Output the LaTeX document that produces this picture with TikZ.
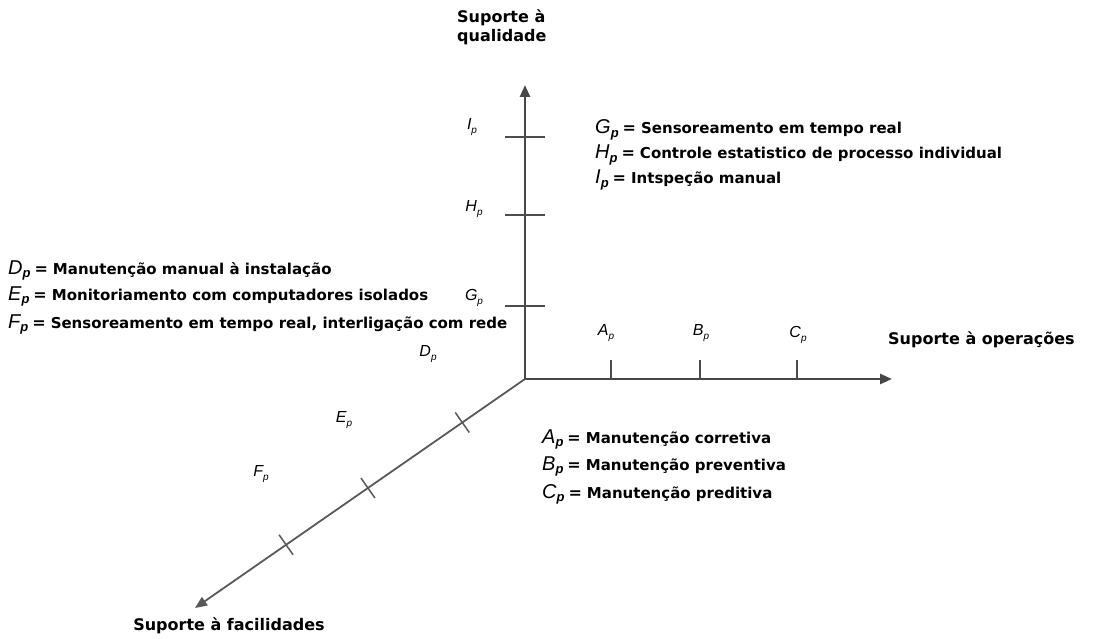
\documentclass[tikz,border=0pt]{standalone}
\usepackage{fontspec}
\setmainfont{Liberation Sans}
\newfontfamily\dvb{DejaVu Sans}
\usetikzlibrary{arrows.meta,calc}
\newcommand{\tlab}[1]{{\rmfamily\mdseries\fontsize{16}{16}\selectfont\itshape #1\raisebox{-0.5ex}{\fontsize{10}{10}\selectfont p}}}
\newcommand{\dlab}[1]{{\rmfamily\mdseries\fontsize{20}{20}\selectfont\itshape #1}{\rmfamily\bfseries\itshape\fontsize{13}{13}\selectfont\raisebox{-0.55ex}{p}}\hspace{4pt}{\dvb\bfseries\fontsize{16}{16}\selectfont=}\hspace{5pt}}
\newcommand{\dtxt}{\dvb\bfseries\fontsize{15}{18}\selectfont}
\begin{document}
\begin{tikzpicture}[x=1pt,y=-1pt,
  axisline/.style={line width=2.6pt, draw=black!72, -{Triangle[length=12pt,width=10pt]}},
  diagline/.style={line width=1.8pt, draw=black!65, -{Triangle[length=12pt,width=10pt]}},
  tickmark/.style={line width=2pt, draw=black!70},
  dtickmark/.style={line width=1.5pt, draw=black!65},
  ticklab/.style={inner sep=0pt},
  deftext/.style={anchor=base west, inner sep=0pt, font=\dtxt},
  axlab/.style={inner sep=0pt, font=\dvb\bfseries\fontsize{16}{19}\selectfont, align=left}]
\useasboundingbox (0,0) rectangle (1098,639);

% axes
\coordinate (O) at (525,379);
\coordinate (Vtop) at (525,85);
\coordinate (Hend) at (892,379);
\coordinate (Dend) at (195,608);
\draw[axisline] (O) -- (Vtop);
\draw[axisline] (O) -- (Hend);
\draw[diagline] (O) -- (Dend);

% vertical ticks
\coordinate (tG) at (525,306);
\coordinate (tH) at (525,215);
\coordinate (tI) at (525,137);
\foreach \n in {tG,tH,tI}{\draw[tickmark] ($(\n)+(-20,0)$) -- ($(\n)+(20,0)$);}

% horizontal ticks
\coordinate (tA) at (611,379);
\coordinate (tB) at (700,379);
\coordinate (tC) at (797,379);
\foreach \n in {tA,tB,tC}{\draw[tickmark] (\n) -- ++(0,-19);}

% diagonal ticks
\coordinate (tD) at ($(O)!0.19!(Dend)$);
\coordinate (tE) at ($(O)!0.476!(Dend)$);
\coordinate (tF) at ($(O)!0.724!(Dend)$);
\foreach \n in {tD,tE,tF}{\draw[dtickmark] ($(\n)+(7,10)$) -- ($(\n)-(7,10)$);}

% tick labels
\node[ticklab] (lI) at (472,127) {\tlab{I}};
\node[ticklab] (lH) at (474,209) {\tlab{H}};
\node[ticklab] (lG) at (474,298) {\tlab{G}};
\node[ticklab] (lA) at (606,333) {\tlab{A}};
\node[ticklab] (lB) at (701,333) {\tlab{B}};
\node[ticklab] (lC) at (798,335) {\tlab{C}};
\node[ticklab] (lD) at (428,354) {\tlab{D}};
\node[ticklab] (lE) at (344,420) {\tlab{E}};
\node[ticklab] (lF) at (261,474) {\tlab{F}};

% axis labels
\node[axlab, anchor=north west] (qual) at (457,10) {Suporte à\\qualidade};
\node[axlab, anchor=base west] (oper) at (888,344) {Suporte à operações};
\node[axlab, anchor=base] (fac) at (229,630) {Suporte à facilidades};

% definitions
\node[deftext] (defG) at (595,134) {\dlab{G}Sensoreamento em tempo real};
\node[deftext] (defH) at (595,159) {\dlab{H}Controle estatistico de processo individual};
\node[deftext] (defI) at (595,184) {\dlab{I}Intspeção manual};

\node[deftext] (defD) at (8,274) {\dlab{D}Manutenção manual à instalação};
\node[deftext] (defE) at (8,300) {\dlab{E}Monitoriamento com computadores isolados};
\node[deftext] (defF) at (8,328) {\dlab{F}Sensoreamento em tempo real, interligação com rede};

\node[deftext] (defA) at (542,443) {\dlab{A}Manutenção corretiva};
\node[deftext] (defB) at (542,470) {\dlab{B}Manutenção preventiva};
\node[deftext] (defC) at (542,498) {\dlab{C}Manutenção preditiva};
\end{tikzpicture}
\end{document}
